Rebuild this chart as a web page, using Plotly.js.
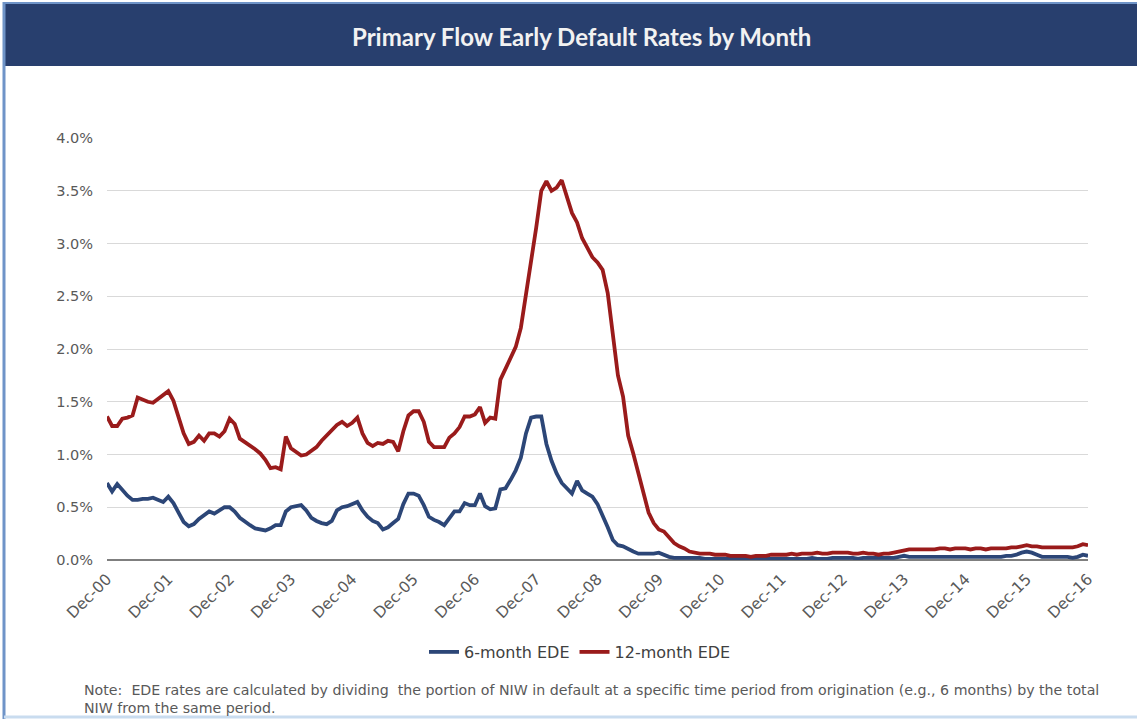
<!DOCTYPE html>
<html>
<head>
<meta charset="utf-8">
<script src="https://cdn.plot.ly/plotly-3.0.1.min.js"></script>
<style>
  html, body { margin: 0; padding: 0; background: #ffffff; }
  #chart { width: 1137px; height: 719px; }
</style>
</head>
<body>
<div id="chart"></div>
<script>
// ---- Data (monthly, Dec-00 .. Dec-16), values in percent ----
const tickLabels = ["Dec-00","Dec-01","Dec-02","Dec-03","Dec-04","Dec-05","Dec-06","Dec-07","Dec-08","Dec-09","Dec-10","Dec-11","Dec-12","Dec-13","Dec-14","Dec-15","Dec-16"];

const ede12 = [
1.36,1.27,1.27,1.34,1.35,1.37,1.54,1.52,1.50,1.49,1.53,1.56,
1.60,1.51,1.34,1.20,1.10,1.12,1.18,1.13,1.20,1.20,1.17,1.22,
1.34,1.29,1.15,1.12,1.09,1.05,1.01,0.95,0.87,0.88,0.86,1.17,
1.06,1.02,0.99,1.00,1.04,1.07,1.13,1.18,1.24,1.28,1.31,1.27,
1.30,1.35,1.20,1.11,1.08,1.11,1.10,1.13,1.12,1.03,1.22,1.37,
1.41,1.41,1.31,1.12,1.07,1.07,1.07,1.16,1.20,1.26,1.36,1.36,
1.38,1.45,1.30,1.35,1.34,1.71,1.82,1.93,2.02,2.20,2.50,2.82,
3.15,3.50,3.59,3.50,3.53,3.60,3.44,3.29,3.20,3.05,2.96,2.87,
2.82,2.75,2.53,2.12,1.75,1.55,1.18,1.01,0.83,0.63,0.45,0.35,
0.29,0.27,0.21,0.16,0.13,0.11,0.08,0.07,0.06,0.06,0.06,0.05,
0.05,0.05,0.04,0.04,0.04,0.04,0.03,0.04,0.04,0.04,0.05,0.05,
0.05,0.05,0.06,0.05,0.06,0.06,0.06,0.07,0.06,0.06,0.07,0.07,
0.07,0.07,0.06,0.06,0.07,0.06,0.06,0.05,0.06,0.06,0.07,0.08,
0.09,0.10,0.10,0.10,0.10,0.10,0.10,0.11,0.11,0.10,0.11,0.11,
0.11,0.10,0.11,0.11,0.10,0.11,0.11,0.11,0.11,0.12,0.12,0.13,
0.14,0.13,0.13,0.12,0.12,0.12,0.12,0.12,0.12,0.12,0.13,0.15,
0.14
];

const ede6 = [
0.73,0.65,0.72,0.66,0.61,0.57,0.57,0.58,0.58,0.59,0.57,0.55,
0.60,0.54,0.45,0.36,0.32,0.34,0.39,0.42,0.46,0.44,0.47,0.50,
0.50,0.46,0.40,0.36,0.33,0.30,0.29,0.28,0.30,0.33,0.33,0.46,
0.50,0.51,0.52,0.47,0.40,0.37,0.35,0.34,0.37,0.47,0.50,0.51,
0.53,0.55,0.47,0.41,0.37,0.35,0.29,0.31,0.35,0.39,0.53,0.63,
0.63,0.61,0.52,0.41,0.38,0.36,0.33,0.40,0.46,0.46,0.54,0.52,
0.52,0.63,0.51,0.48,0.49,0.67,0.68,0.76,0.85,0.97,1.20,1.35,
1.36,1.36,1.10,0.94,0.82,0.73,0.68,0.63,0.75,0.66,0.63,0.60,
0.53,0.43,0.31,0.19,0.14,0.13,0.10,0.08,0.06,0.06,0.06,0.06,
0.07,0.05,0.03,0.02,0.02,0.02,0.02,0.02,0.02,0.01,0.01,0.01,
0.01,0.01,0.01,0.01,0.01,0.01,0.01,0.01,0.01,0.01,0.01,0.01,
0.01,0.01,0.01,0.01,0.01,0.01,0.02,0.01,0.01,0.01,0.02,0.02,
0.02,0.02,0.02,0.01,0.02,0.02,0.02,0.02,0.02,0.02,0.02,0.03,
0.04,0.03,0.03,0.03,0.03,0.03,0.03,0.03,0.03,0.03,0.03,0.03,
0.03,0.03,0.03,0.03,0.03,0.03,0.03,0.03,0.04,0.04,0.05,0.07,
0.08,0.07,0.05,0.03,0.03,0.03,0.03,0.03,0.03,0.02,0.03,0.05,
0.04
];

const seriesNames = ["6-month EDE", "12-month EDE"];
const titleText = "Primary Flow Early Default Rates by Month";
const noteText = "Note:&nbsp; EDE rates are calculated by dividing&nbsp; the portion of NIW in default at a specific time period from origination (e.g., 6 months) by the total<br>NIW from the same period.";

// ---- Build ----
const months = ede6.map((_, i) => i);
const tickVals = tickLabels.map((_, i) => i * 12);

const W = 1137, H = 719;
const M = { l: 107, r: 49, t: 138, b: 159 };
const PW = W - M.l - M.r, PH = H - M.t - M.b;
const px = x => (x - M.l) / PW;
const py = y => (H - M.b - y) / PH;
const FONT = "'DejaVu Sans', 'Liberation Sans', Arial, sans-serif";

const traces = [
  { x: months, y: ede6, type: "scatter", mode: "lines", name: seriesNames[0],
    line: { color: "#2c4677", width: 3.8 } },
  { x: months, y: ede12, type: "scatter", mode: "lines", name: seriesNames[1],
    line: { color: "#9a1b1b", width: 3.8 } }
];

const layout = {
  width: W, height: H,
  margin: M,
  paper_bgcolor: "#ffffff",
  plot_bgcolor: "#ffffff",
  showlegend: true,
  font: { family: FONT, color: "#595959" },
  xaxis: {
    range: [0, 192],
    tickvals: tickVals,
    ticktext: tickLabels,
    tickangle: -45,
    showgrid: false,
    zeroline: false,
    showline: false,
    ticks: "",
    ticklabelstandoff: 6,
    tickfont: { family: FONT, size: 15.5, color: "#595959" },
    fixedrange: true
  },
  yaxis: {
    range: [0, 4.0],
    tickvals: [0,0.5,1,1.5,2,2.5,3,3.5,4],
    ticktext: ["0.0%","0.5%","1.0%","1.5%","2.0%","2.5%","3.0%","3.5%","4.0%"],
    showgrid: true,
    gridcolor: "#d9d9d9",
    gridwidth: 1,
    zeroline: true,
    zerolinecolor: "#7f7f7f",
    zerolinewidth: 1.5,
    showline: false,
    ticks: "",
    ticklabelstandoff: 13,
    tickfont: { family: FONT, size: 14.5, color: "#595959" },
    fixedrange: true
  },
  legend: {
    orientation: "h",
    x: px(580), xanchor: "center",
    y: py(652), yanchor: "middle",
    font: { family: FONT, size: 16, color: "#404040" },
    itemwidth: 30,
    bgcolor: "rgba(0,0,0,0)"
  },
  shapes: [
    { type: "rect", xref: "paper", yref: "paper", layer: "below",
      x0: px(4), x1: px(1137), y0: py(66), y1: py(4),
      fillcolor: "#283f6e", line: { width: 0 } },
    { type: "line", xref: "paper", yref: "paper",
      x0: px(4), x1: px(4), y0: py(2), y1: py(719),
      line: { color: "#6f94c8", width: 3 } },
    { type: "line", xref: "paper", yref: "paper",
      x0: px(4), x1: px(1137), y0: py(3), y1: py(3),
      line: { color: "#6f94c8", width: 2 } },
    { type: "line", xref: "paper", yref: "paper",
      x0: px(4), x1: px(1137), y0: py(717), y1: py(717),
      line: { color: "#c9dcef", width: 3 } }
  ],
  annotations: [
    { text: "<b>" + titleText + "</b>", xref: "paper", yref: "paper",
      x: px(581), y: py(37), xanchor: "center", yanchor: "middle", showarrow: false,
      font: { family: "Lato, 'Open Sans', sans-serif", size: 24, color: "#f2f2f2" } },
    { text: noteText, xref: "paper", yref: "paper",
      x: px(82), y: py(680), xanchor: "left", yanchor: "top", align: "left", showarrow: false,
      font: { family: FONT, size: 14.2, color: "#595959" } }
  ]
};

Plotly.newPlot("chart", traces, layout, { displayModeBar: false, staticPlot: true });
</script>
</body>
</html>
